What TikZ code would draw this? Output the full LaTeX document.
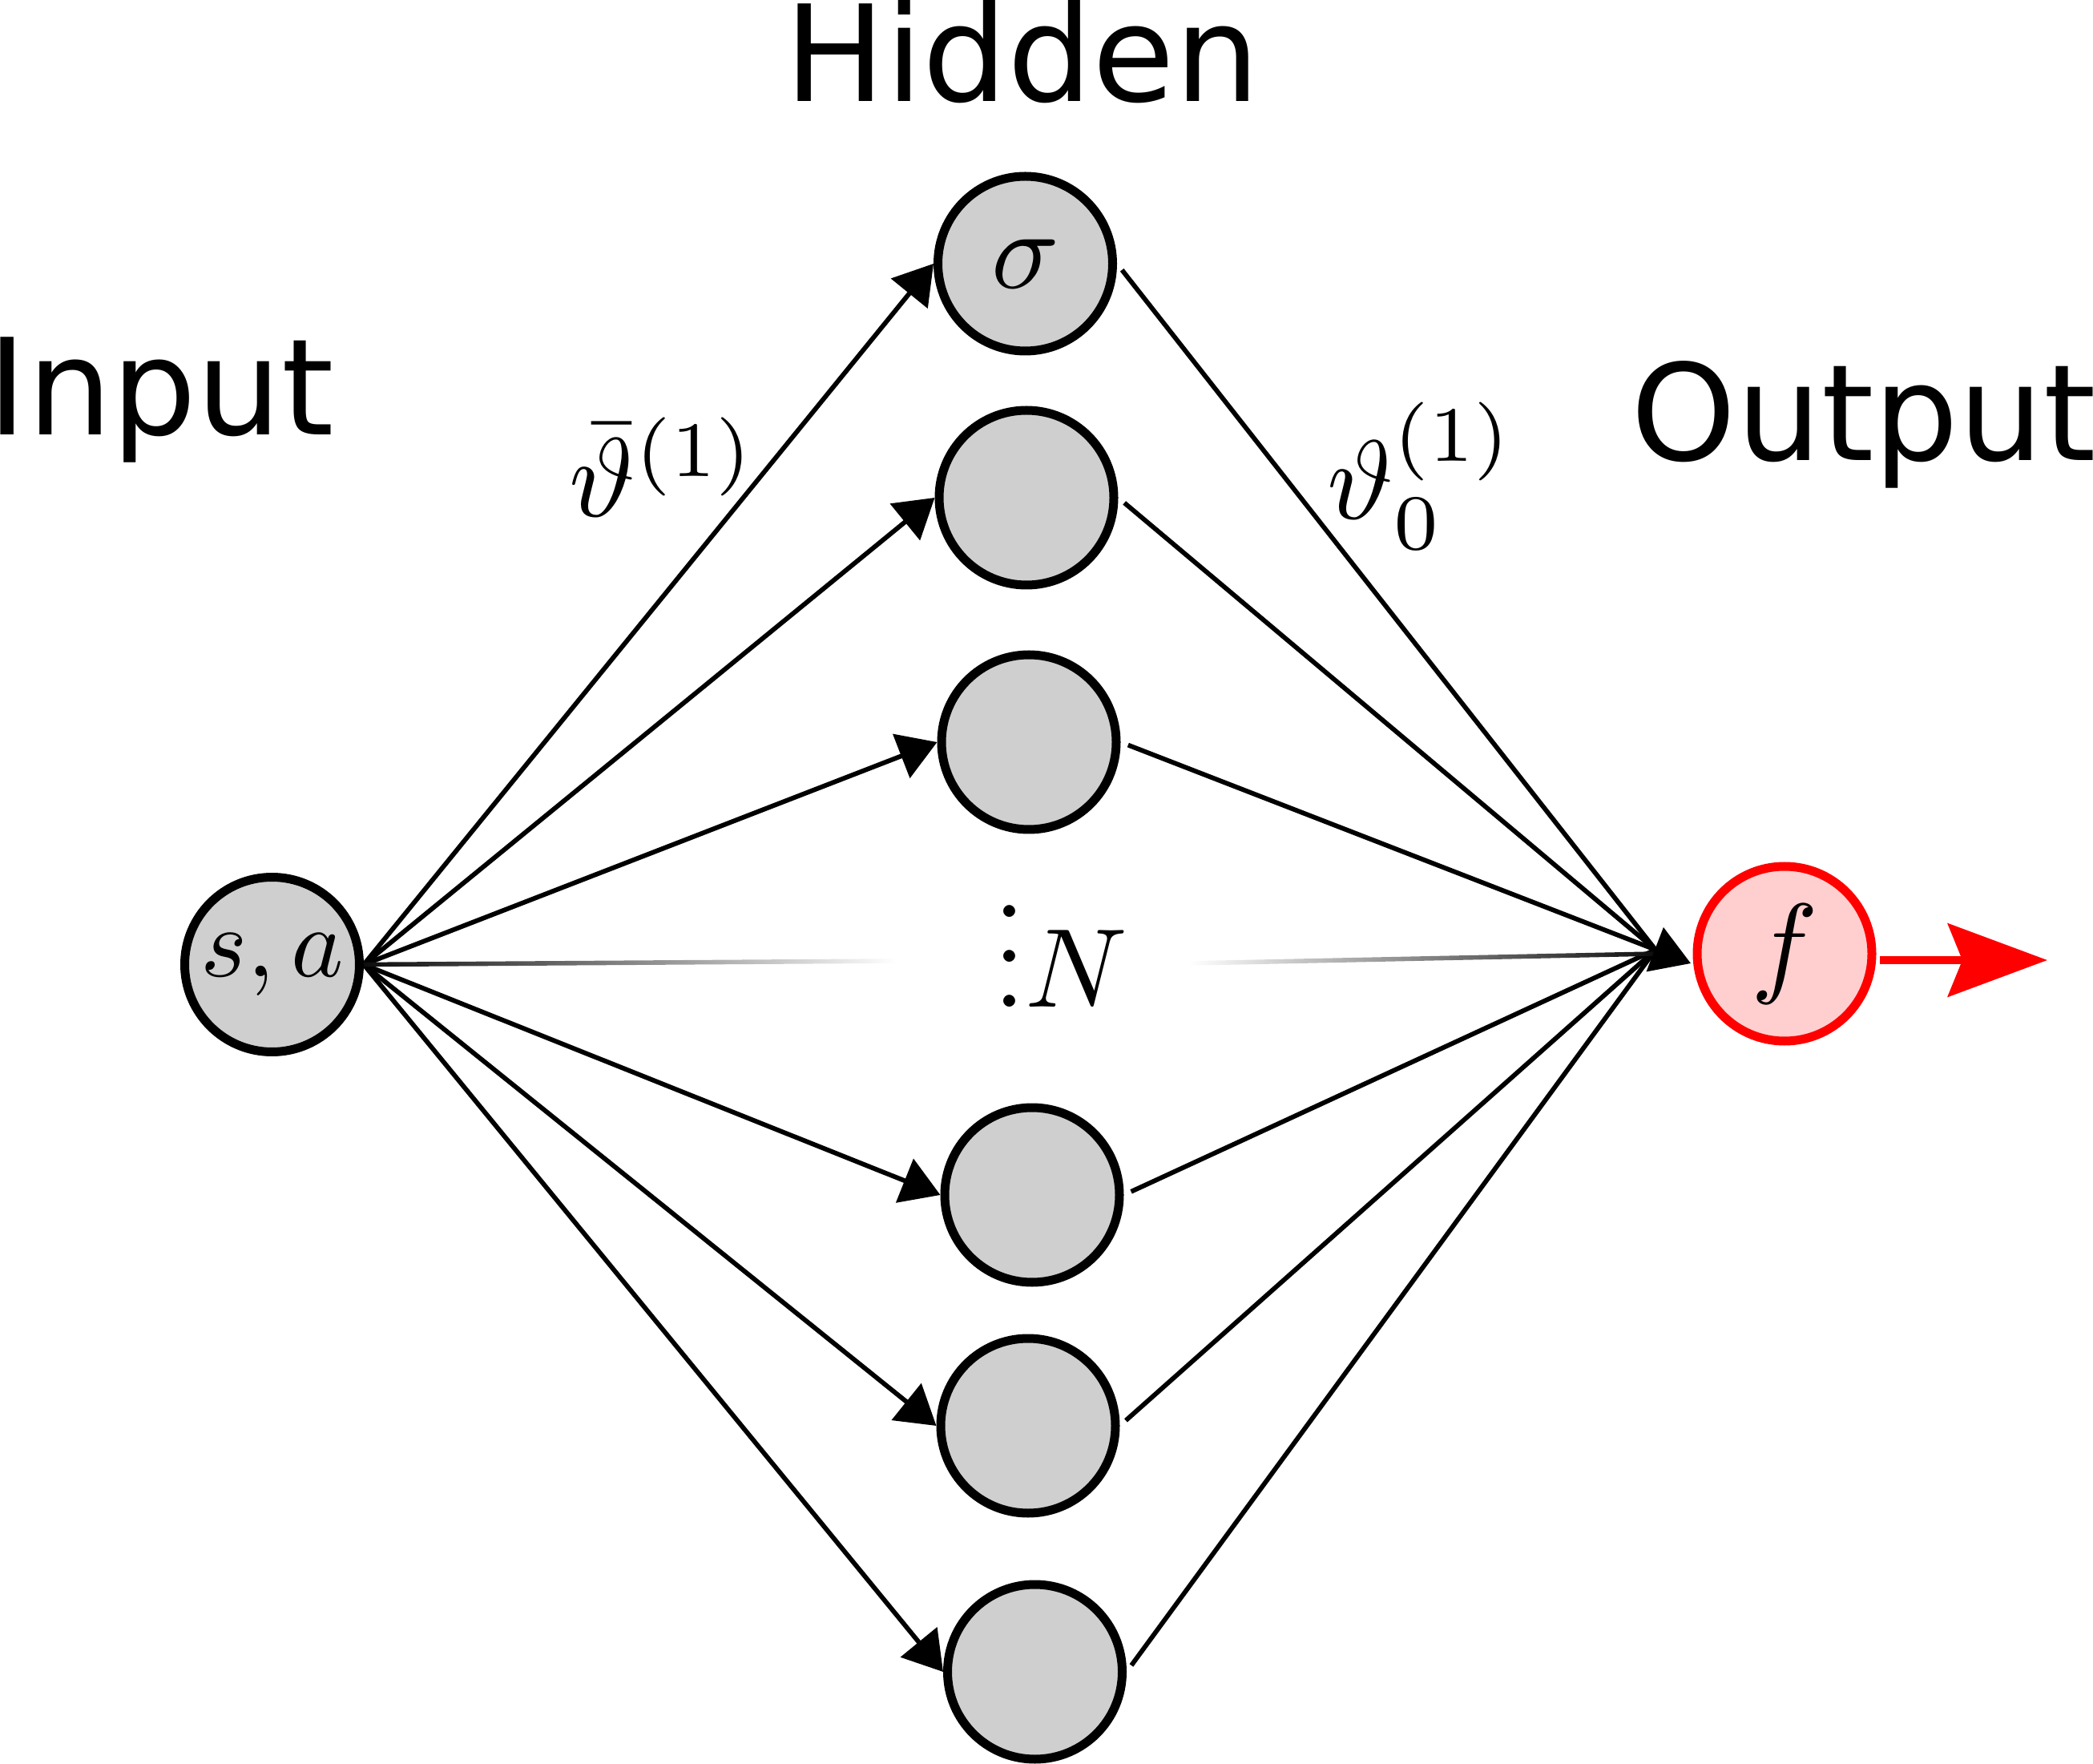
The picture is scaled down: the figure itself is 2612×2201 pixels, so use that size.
\documentclass[tikz,border=0pt]{standalone}
\usepackage[no-math]{fontspec}
\newfontfamily\labelfont{DejaVu Sans}
\usetikzlibrary{arrows.meta,calc}
\definecolor{nodegray}{RGB}{207,207,207}
\definecolor{pinkfill}{RGB}{255,207,207}
\newcommand\mathbig[1]{\scalebox{3.5}{#1}}
\begin{document}
\begin{tikzpicture}[x=0.25pt,y=-0.25pt,
  neuron/.style={circle, draw=black, line width=2.75pt, fill=nodegray, minimum size=54.5pt, inner sep=0pt},
  outneuron/.style={neuron, draw=red, fill=pinkfill},
  edge/.style={line width=1.45pt, black},
  arr/.style={edge, -{Triangle[length=12pt,width=14.5pt]}},
  title/.style={inner sep=0pt, font=\labelfont\fontsize{41.75}{50}\selectfont},
  mlabel/.style={inner sep=0pt},
]
\useasboundingbox (0,0) rectangle (2612,2201);

% nodes
\node[neuron] (in) at (339.5,1203.5) {\scalebox{3.1}{$s,a$}};
\node[neuron] (h1) at (1279.5,329) {\mathbig{$\sigma$}};
\node[neuron] (h2) at (1281,621) {};
\node[neuron] (h3) at (1284,926) {};
\node[neuron] (h4) at (1288,1491) {};
\node[neuron] (h5) at (1283,1779) {};
\node[neuron] (h6) at (1291.5,2086) {};
\node[outneuron] (out) at (2227,1190) {\mathbig{$f$}};

% helper coordinates
\coordinate (gA) at (1118,1199);
\coordinate (gB) at (1484,1202);
\coordinate (conv) at (2066,1185);
\coordinate (atip) at (2110,1202);
\coordinate (rtip) at (2555,1198);

% input -> hidden
\foreach \h in {h1,h2,h3,h4,h5,h6} \draw[arr] (in.east) -- (\h.west);

% hidden -> output
\foreach \h in {h1,h2,h3,h4,h5,h6} \draw[edge, shorten <=2.5pt] (\h.east) -- (conv);

% faded middle connection
\shade[left color=black!95, right color=white]
  ($(in.east)+(0,-2.8)$) -- ($(gA)+(0,-2.8)$) -- ($(gA)+(0,2.8)$) -- ($(in.east)+(0,2.8)$) -- cycle;
\shade[left color=white, right color=black!95]
  ($(gB)+(0,-2.8)$) -- ($(conv)+(0,2.2)$) -- ($(conv)+(0,7.8)$) -- ($(gB)+(0,2.8)$) -- cycle;

\draw[arr] (conv) -- (atip);

% output arrow
\draw[red, line width=2.6pt, -{Stealth[length=31pt, width=22.75pt, inset=4.5pt]}]
  ($(out.east)+(4,8)$) -- (rtip);

% labels
\node[title, anchor=base] (thid) at (1276,127) {Hidden};
\node[title, anchor=base west] (tin) at (-16,543) {Input};
\node[title, anchor=base west] (tout) at (2035,575) {Output};
\node[mlabel, anchor=base west] (l1) at (710,645) {\mathbig{$\bar{\vartheta}^{(1)}$}};
\node[mlabel, anchor=base west] (l2) at (1656,648) {\mathbig{$\vartheta_0^{(1)}$}};
\node[mlabel, anchor=base west] (dots) at (1240,1256) {\mathbig{$\vdots N$}};
\end{tikzpicture}
\end{document}
